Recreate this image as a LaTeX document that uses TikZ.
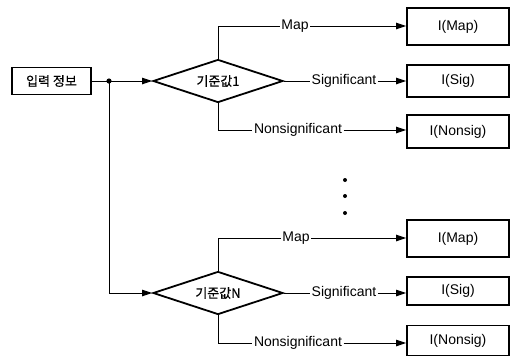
\documentclass[tikz,border=0pt]{standalone}
\usepackage{fontspec}
\setmainfont{Liberation Sans}
\newfontfamily\krfont[FakeBold=0.6]{Noto Sans CJK KR}
\usetikzlibrary{shapes.geometric,arrows.meta}
\tikzset{
	inbox/.style={draw,line width=1.8pt,minimum width=79pt,minimum height=27pt,inner sep=0pt,font=\krfont\fontsize{13}{15}\selectfont},
	crit/.style={diamond,draw,line width=1.8pt,aspect=3,minimum width=130pt,minimum height=43pt,inner sep=0pt,font=\krfont\fontsize{13}{15}\selectfont},
	outbox/.style={draw,line width=1.8pt,minimum width=102pt,inner sep=0pt},
	lbl/.style={inner sep=1.5pt},
	link/.style={line width=1pt},
	arr/.style={link,-{Triangle[length=10pt,width=6.5pt]}},
}
\begin{document}
\begin{tikzpicture}[x=1pt,y=-1pt,font=\fontsize{14}{16}\selectfont]
	\useasboundingbox (0,0) rectangle (515,360);

	% вход
	\node [inbox] (in) at ( 51.5, 81 ) {입력 정보};
	\coordinate (j) at ( 109, 81 );
	\fill (j) circle (2.6pt);

	% критерий 1
	\node [crit] (d1) at ( 218, 81 ) {기준값1};
	\draw [arr] (in) -- (d1);
	\node [lbl] (m1) at ( 295, 26 ) {Map};
	\node [lbl] (s1) at ( 344, 81 ) {Significant};
	\node [lbl] (n1) at ( 298, 130 ) {Nonsignificant};
	\node [outbox,minimum height=37pt] (bm1) at ( 458, 26.5 ) {I(Map)};
	\node [outbox,minimum height=32pt] (bs1) at ( 458, 81 ) {I(Sig)};
	\node [outbox,minimum height=33pt] (bn1) at ( 458, 131.5 ) {I(Nonsig)};
	\draw [link] (d1.north) |- (m1);
	\draw [link] (d1) -- (s1);
	\draw [link] (d1.south) |- (n1);
	\draw [arr] (m1) -- (m1 -| bm1.west);
	\draw [arr] (s1) -- (s1 -| bs1.west);
	\draw [arr] (n1) -- (n1 -| bn1.west);

	% точки
	\fill ( 345, 180 ) circle (2pt);
	\fill ( 345, 196 ) circle (2pt);
	\fill ( 345, 213 ) circle (2pt);

	% критерий N
	\node [crit] (dN) at ( 218, 293 ) {기준값N};
	\draw [arr] (j) |- (dN);
	\node [lbl] (mN) at ( 296, 238 ) {Map};
	\node [lbl] (sN) at ( 344, 293 ) {Significant};
	\node [lbl] (nN) at ( 298, 343 ) {Nonsignificant};
	\node [outbox,minimum height=37pt] (bmN) at ( 458, 238.5 ) {I(Map)};
	\node [outbox,minimum height=28pt] (bsN) at ( 458, 291 ) {I(Sig)};
	\node [outbox,minimum height=30pt] (bnN) at ( 458, 340.5 ) {I(Nonsig)};
	\draw [link] (dN.north) |- (mN);
	\draw [link] (dN) -- (sN);
	\draw [link] (dN.south) |- (nN);
	\draw [arr] (mN) -- (mN -| bmN.west);
	\draw [arr] (sN) -- (sN -| bsN.west);
	\draw [arr] (nN) -- (nN -| bnN.west);
\end{tikzpicture}
\end{document}
